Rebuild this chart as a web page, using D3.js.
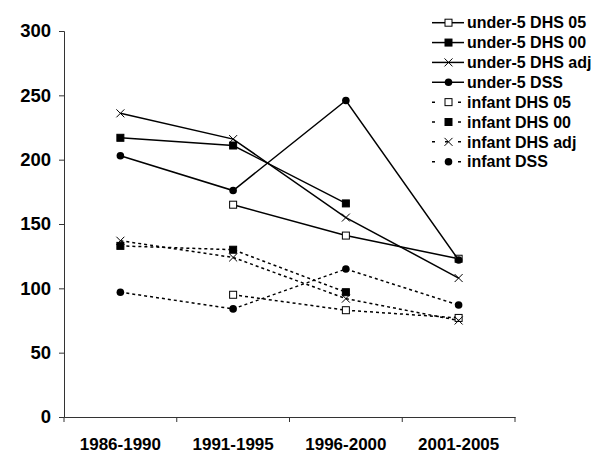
<!DOCTYPE html>
<html>
<head>
<meta charset="utf-8">
<script src="https://cdn.jsdelivr.net/npm/d3@7"></script>
<style>
	body { margin: 0; background: #fff; }
	svg text { font-family: 'Liberation Sans', Arial, sans-serif; font-weight: bold; }
</style>
</head>
<body>
<div id="chart"></div>
<script>
// Periods on the x axis
var periods = ['1986-1990', '1991-1995', '1996-2000', '2001-2005'];
var yTicks = [0, 50, 100, 150, 200, 250, 300];

// Mortality rates per series (null = no estimate)
var u5_dhs05 = [null, 165, 141, 123];
var u5_dhs00 = [217, 211, 166, null];
var u5_dhsadj = [236, 216, 155, 108];
var u5_dss = [203, 176, 246, 122];
var inf_dhs05 = [null, 95, 83, 77];
var inf_dhs00 = [133, 130, 97, null];
var inf_dhsadj = [137, 124, 92, 75];
var inf_dss = [97, 84, 115, 87];

var seriesNames = [
	'under-5 DHS 05', 'under-5 DHS 00', 'under-5 DHS adj', 'under-5 DSS',
	'infant DHS 05', 'infant DHS 00', 'infant DHS adj', 'infant DSS'
];

var series = [
	{name: seriesNames[0], values: u5_dhs05, marker: 'open', dashed: false},
	{name: seriesNames[1], values: u5_dhs00, marker: 'square', dashed: false},
	{name: seriesNames[2], values: u5_dhsadj, marker: 'cross', dashed: false},
	{name: seriesNames[3], values: u5_dss, marker: 'circle', dashed: false},
	{name: seriesNames[4], values: inf_dhs05, marker: 'open', dashed: true},
	{name: seriesNames[5], values: inf_dhs00, marker: 'square', dashed: true},
	{name: seriesNames[6], values: inf_dhsadj, marker: 'cross', dashed: true},
	{name: seriesNames[7], values: inf_dss, marker: 'circle', dashed: true}
];

var margin = {top: 31, right: 85, bottom: 57, left: 64},
    width = 600 - margin.left - margin.right,
    height = 474 - margin.top - margin.bottom;

var svg = d3.select('#chart')
	.append('svg')
	.attr('width', 600)
	.attr('height', 474)
	.append('g')
	.attr('transform', 'translate(' + margin.left + ',' + margin.top + ')');

var x = d3.scaleBand().domain(periods).range([0, width]);
var y = d3.scaleLinear().domain([0, 300]).range([height, 0]);

// axes
var yAxis = svg.append('g')
	.call(d3.axisLeft(y).tickValues(yTicks).tickSize(5).tickPadding(8));
yAxis.selectAll('text').style('font-size', '18.5px').attr('fill', '#000');

var xAxis = svg.append('g')
	.attr('transform', 'translate(0,' + height + ')')
	.call(d3.axisBottom(x).tickSize(0).tickPadding(21));
xAxis.selectAll('text').style('font-size', '17px').attr('fill', '#000');

// band boundary ticks on the x axis
xAxis.selectAll('.bound')
	.data(d3.range(periods.length + 1))
	.enter()
	.append('line')
	.attr('x1', function(i) { return i * x.bandwidth(); })
	.attr('x2', function(i) { return i * x.bandwidth(); })
	.attr('y1', 0)
	.attr('y2', 5)
	.attr('stroke', '#333');

svg.selectAll('.domain').attr('stroke', '#333');
svg.selectAll('.tick line').attr('stroke', '#333');

function cx(i) {
	return x(periods[i]) + x.bandwidth() / 2;
}

function drawMarker(g, type, px, py) {
	if (type == 'open' || type == 'square') {
		g.append('rect')
		    .attr('x', px - 3.5).attr('y', py - 3.5)
		    .attr('width', 7).attr('height', 7)
		    .attr('fill', type == 'open' ? '#fff' : '#000')
		    .attr('stroke', '#000').attr('stroke-width', 1);
	} else if (type == 'circle') {
		g.append('circle')
		    .attr('cx', px).attr('cy', py).attr('r', 3.8)
		    .attr('fill', '#000');
	} else {
		g.append('path')
		    .attr('d', 'M' + (px - 4) + ',' + (py - 4) + 'L' + (px + 4) + ',' + (py + 4) +
			'M' + (px - 4) + ',' + (py + 4) + 'L' + (px + 4) + ',' + (py - 4))
		    .attr('stroke', '#000').attr('stroke-width', 1).attr('fill', 'none');
	}
}

var line = d3.line()
	.defined(function(d) { return d != null; })
	.x(function(d, i) { return cx(i); })
	.y(function(d) { return y(d); });

series.forEach(function(s) {
	svg.append('path')
	    .datum(s.values)
	    .attr('d', line)
	    .attr('fill', 'none')
	    .attr('stroke', '#000')
	    .attr('stroke-width', 1.5)
	    .attr('stroke-dasharray', s.dashed ? '3,3' : null);
	var g = svg.append('g');
	s.values.forEach(function(v, i) {
		if (v != null) drawMarker(g, s.marker, cx(i), y(v));
	});
});

// legend
var legend = svg.selectAll('.legend')
	.data(series)
	.enter()
	.append('g')
	.attr('transform', function(d, i) {
		return 'translate(' + (432 - margin.left) + ',' + (22.7 - margin.top + i * 19.86) + ')';
	});

legend.append('line')
    .attr('x1', 0).attr('x2', 32)
    .attr('y1', 0).attr('y2', 0)
    .attr('stroke', '#000')
    .attr('stroke-width', 1.5)
    .attr('stroke-dasharray', function(d) { return d.dashed ? '3,10' : null; });

legend.each(function(d) {
	drawMarker(d3.select(this), d.marker, 16.5, 0);
});

legend.append('text')
    .attr('x', 35)
    .attr('y', 0)
    .attr('dy', '0.36em')
    .style('font-size', '16px')
    .text(function(d) { return d.name; });
</script>
</body>
</html>
